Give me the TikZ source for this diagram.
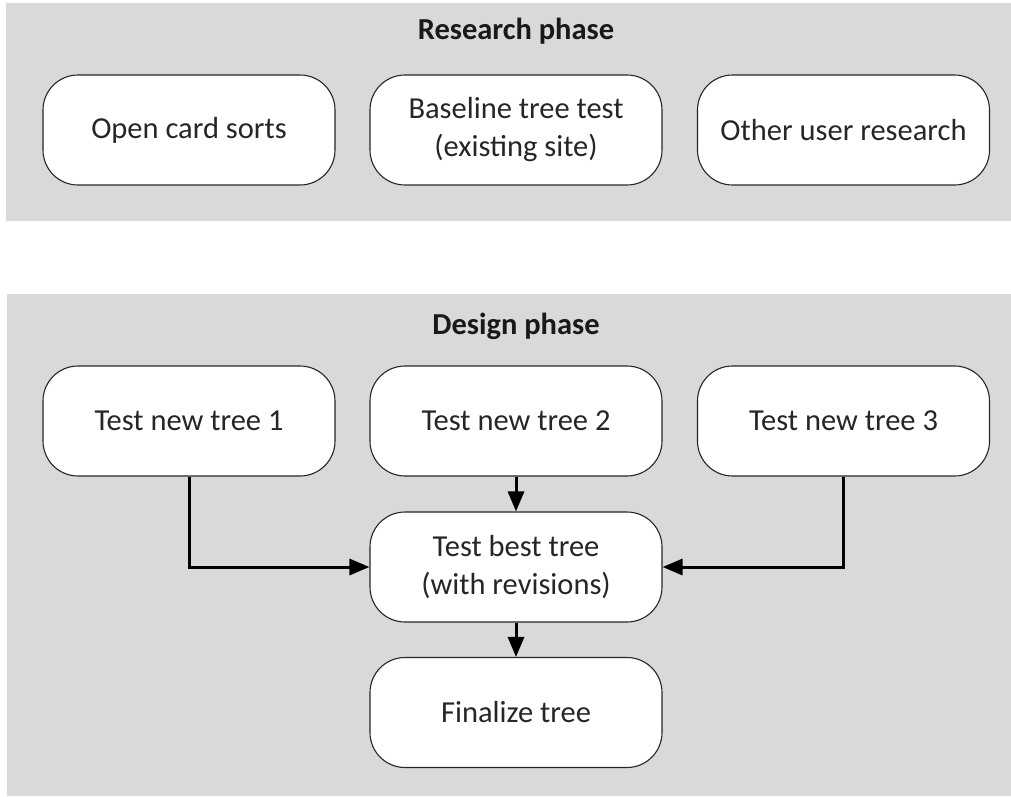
\documentclass[tikz,border=0pt]{standalone}
\usepackage{fontspec}
\setmainfont{Carlito}
\usetikzlibrary{arrows.meta}
\definecolor{panelgray}{HTML}{D9D9D9}
\tikzset{
  panel/.style={fill=panelgray, draw=none},
  stepbox/.style={draw=black!85, line width=1.1pt, fill=white, rounded corners=35pt,
    minimum width=292pt, minimum height=110pt, align=center, inner sep=0pt,
    font=\fontsize{30.5}{38}\selectfont, text=black!85},
  phasetitle/.style={font=\bfseries\fontsize{30.5}{36}\selectfont, text=black!90},
  flow/.style={line width=3pt, -{Triangle[length=20pt,width=16pt]}}
}
\begin{document}
\begin{tikzpicture}[x=1pt,y=-1pt]
\useasboundingbox (0,0) rectangle (1011,796);
% background panels
\fill[white] (0,0) rectangle (1011,796);
\fill[panel] (6,3) rectangle (1011,221);
\fill[panel] (7,294) rectangle (1011,796);

% research phase
\node[phasetitle] (rtitle) at (516,31) {Research phase};
\node[stepbox] (cards) at (189,130) {Open card sorts};
\node[stepbox] (baseline) at (516,130) {Baseline tree test\\(existing site)};
\node[stepbox] (other) at (843.5,130) {Other user research};

% design phase
\node[phasetitle] (dtitle) at (516,326) {Design phase};
\node[stepbox] (t1) at (189,421) {Test new tree 1};
\node[stepbox] (t2) at (516,421) {Test new tree 2};
\node[stepbox] (t3) at (843.5,421) {Test new tree 3};
\node[stepbox] (best) at (516,567) {Test best tree\\(with revisions)};
\node[stepbox] (final) at (516,712.5) {Finalize tree};

% connectors
\draw[flow] (t1.south) |- (best.west);
\draw[flow] (t3.south) |- (best.east);
\draw[flow] (t2.south) -- (best.north);
\draw[flow] (best.south) -- (final.north);
\end{tikzpicture}
\end{document}
